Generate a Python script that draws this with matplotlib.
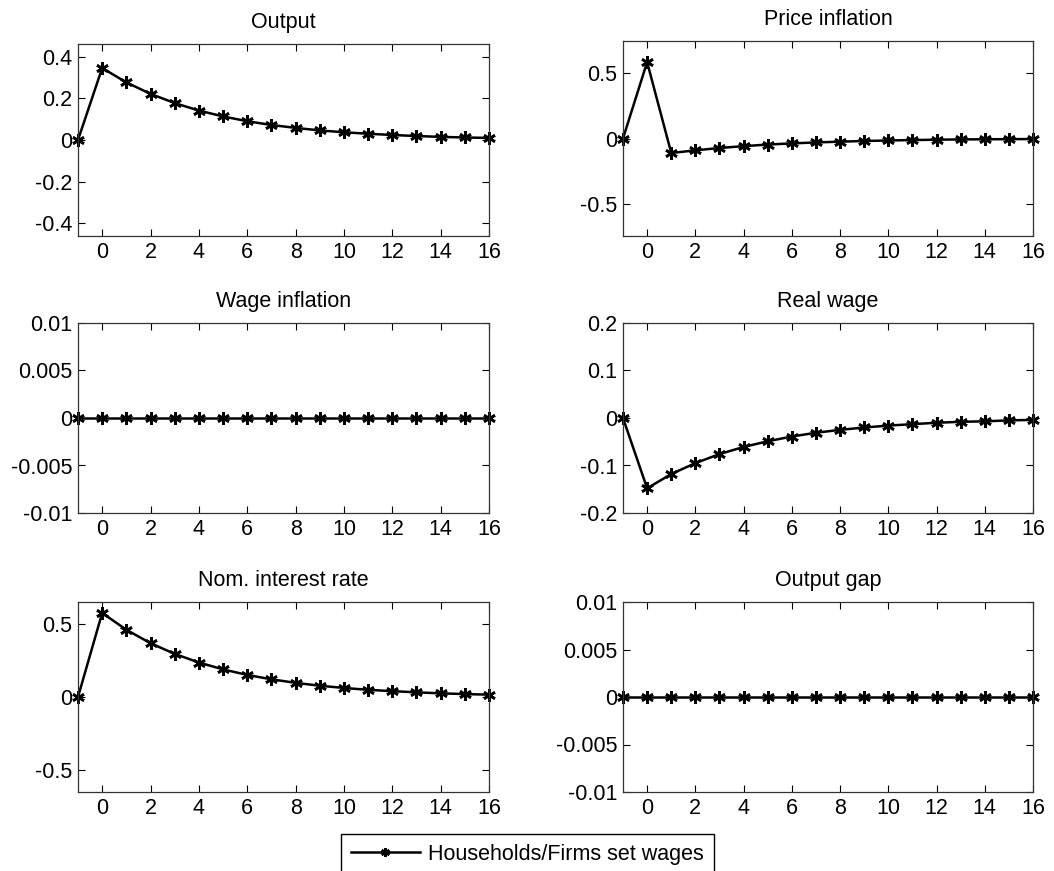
import numpy as np
import matplotlib
matplotlib.use('Agg')
import matplotlib.pyplot as plt
from matplotlib.ticker import FuncFormatter

plt.rcParams['font.family'] = ['Liberation Sans', 'DejaVu Sans']
plt.rcParams['font.size'] = 15.5

# horizonte de la respuesta al impulso
periods = list(range(-1, 17))

output = [0, 0.345, 0.276, 0.221, 0.177, 0.141, 0.113, 0.090, 0.072, 0.058,
          0.046, 0.037, 0.030, 0.024, 0.019, 0.015, 0.012, 0.010]
price_infl = [0, 0.58, -0.110, -0.090, -0.072, -0.058, -0.046, -0.037, -0.030,
              -0.024, -0.019, -0.015, -0.012, -0.009, -0.007, -0.006, -0.005, -0.004]
wage_infl = [0] * 18
real_wage = [0, -0.148, -0.118, -0.095, -0.076, -0.061, -0.049, -0.039, -0.031,
             -0.025, -0.020, -0.016, -0.013, -0.010, -0.008, -0.007, -0.005, -0.004]
nom_rate = [0, 0.575, 0.460, 0.368, 0.295, 0.236, 0.189, 0.151, 0.121, 0.097,
            0.077, 0.062, 0.049, 0.040, 0.032, 0.025, 0.020, 0.016]
output_gap = [0] * 18

titles = ['Output', 'Price inflation', 'Wage inflation', 'Real wage',
          'Nom. interest rate', 'Output gap']
series = [output, price_infl, wage_infl, real_wage, nom_rate, output_gap]
ylims = [0.46, 0.74, 0.01, 0.2, 0.65, 0.01]
yticks = [[-0.4, -0.2, 0, 0.2, 0.4], [-0.5, 0, 0.5],
          [-0.01, -0.005, 0, 0.005, 0.01], [-0.2, -0.1, 0, 0.1, 0.2],
          [-0.5, 0, 0.5], [-0.01, -0.005, 0, 0.005, 0.01]]
label = 'Households/Firms set wages'

W, H = 1054, 871
fig = plt.figure(figsize=(W / 100, H / 100), dpi=100)

# posiciones en pixeles (izq, arriba, der, abajo)
boxes = [(78, 44, 489, 236), (623, 41, 1033, 236),
         (78, 323, 489, 513), (623, 323, 1033, 513),
         (78, 602, 489, 792), (623, 602, 1033, 792)]

asterisk = (6, 2, 0)
lines = []
for i in range(6):
    l, t, r, b = boxes[i]
    ax = fig.add_axes([l / W, 1 - b / H, (r - l) / W, (b - t) / H])
    ln, = ax.plot(periods, series[i], color='black', lw=1.8, marker=asterisk,
                  markersize=9, mew=1.9, clip_on=False)
    lines.append(ln)
    ax.set_xlim(-1, 16)
    ax.set_ylim(-ylims[i], ylims[i])
    ax.set_xticks(range(0, 17, 2))
    ax.set_yticks(yticks[i])
    ax.yaxis.set_major_formatter(FuncFormatter(lambda v, p: '%g' % v))
    ax.tick_params(direction='in', top=True, right=True, length=5,
                   width=0.8, pad=4)
    for s in ax.spines.values():
        s.set_linewidth(0.9)
        s.set_color('#333333')
    ax.set_title(titles[i], fontsize=15.5, pad=11.5)

fig.legend([lines[0]], [label], loc='upper center',
           bbox_to_anchor=(527.5 / W, 1 - 834 / H), borderaxespad=0,
           fancybox=False, edgecolor='black', framealpha=1,
           handlelength=3.2, handletextpad=0.4, borderpad=0.45,
           fontsize=15.5, markerscale=0.7)

fig.savefig('out.png', dpi=100)
